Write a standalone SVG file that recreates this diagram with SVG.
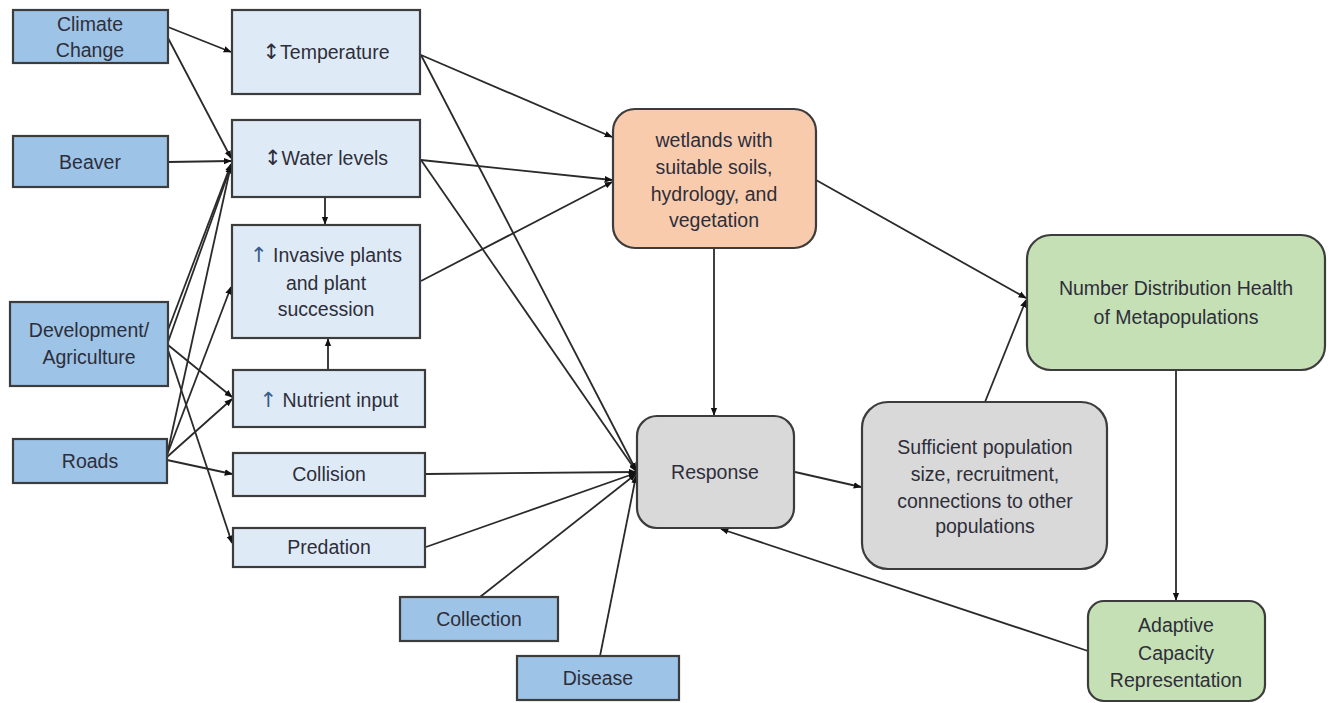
<svg xmlns="http://www.w3.org/2000/svg" width="1332" height="703" viewBox="0 0 1332 703">
<style>
.box{stroke:#3c3c3c;stroke-width:2.2}
.drv{fill:#9dc3e6}
.mid{fill:#deebf7}
.wet{fill:#f8cbad}
.gry{fill:#d9d9d9}
.grn{fill:#c5e0b4}
text{font-family:"Liberation Sans","DejaVu Sans",sans-serif;font-size:19.5px;fill:#2e2e3a;text-anchor:middle}
.sym{font-family:"DejaVu Sans",sans-serif;font-size:21px}
.c line{stroke:#2a2a2a;stroke-width:1.8;marker-end:url(#ah)}
</style>
<defs>
<marker id="ah" viewBox="0 0 10 10" refX="9" refY="5" markerWidth="4.5" markerHeight="4.5" orient="auto" markerUnits="strokeWidth">
<path d="M0,1 L10,5 L0,9 z" fill="#111"/>
</marker>
</defs>
<rect width="1332" height="703" fill="#fff"/>
<g class="c" id="connectors">
<line x1="168" y1="27" x2="231" y2="52"/>
<line x1="168" y1="38" x2="231" y2="158"/>
<line x1="168" y1="162" x2="231" y2="161"/>
<line x1="168" y1="330" x2="231" y2="164"/>
<line x1="168" y1="342" x2="231" y2="166"/>
<line x1="167" y1="455" x2="231" y2="165"/>
<line x1="167" y1="455" x2="231" y2="287"/>
<line x1="168" y1="345" x2="232" y2="397"/>
<line x1="167" y1="457" x2="232" y2="399"/>
<line x1="167" y1="460" x2="232" y2="474"/>
<line x1="168" y1="350" x2="232" y2="543"/>
<line x1="325" y1="197" x2="325" y2="224"/>
<line x1="328" y1="370" x2="328" y2="339"/>
<line x1="421" y1="55" x2="612" y2="137"/>
<line x1="421" y1="55" x2="636" y2="470"/>
<line x1="421" y1="160" x2="612" y2="180"/>
<line x1="421" y1="160" x2="636" y2="471"/>
<line x1="421" y1="281" x2="612" y2="182"/>
<line x1="426" y1="474" x2="636" y2="472"/>
<line x1="426" y1="547" x2="636" y2="473"/>
<line x1="480" y1="597" x2="636" y2="474"/>
<line x1="600" y1="656" x2="636" y2="476"/>
<line x1="714" y1="248" x2="714" y2="415"/>
<line x1="795" y1="472" x2="861" y2="487"/>
<line x1="816" y1="180" x2="1026" y2="298"/>
<line x1="985" y1="402" x2="1026" y2="300"/>
<line x1="1176" y1="370" x2="1176" y2="600"/>
<line x1="1088" y1="651" x2="721" y2="529"/>
</g>
<g id="climate"><rect class="box drv" x="13" y="10" width="155" height="53"/><text x="90" y="31">Climate</text><text x="90" y="57">Change</text></g>
<g id="beaver"><rect class="box drv" x="13" y="136" width="155" height="51"/><text x="90" y="169">Beaver</text></g>
<g id="development"><rect class="box drv" x="10" y="302" width="158" height="84"/><text x="89" y="337">Development/</text><text x="89" y="364">Agriculture</text></g>
<g id="roads"><rect class="box drv" x="13" y="439" width="154" height="44"/><text x="90" y="468">Roads</text></g>
<g id="temperature"><rect class="box mid" x="232" y="10" width="188" height="84"/><text x="326" y="59"><tspan class="sym">↕</tspan>Temperature</text></g>
<g id="water"><rect class="box mid" x="232" y="120" width="188" height="77"/><text x="326" y="165"><tspan class="sym">↕</tspan>Water levels</text></g>
<g id="invasive"><rect class="box mid" x="232" y="225" width="188" height="113"/><text x="326" y="262"><tspan class="sym" fill="#3a5a8a">↑</tspan> Invasive plants</text><text x="326" y="290">and plant</text><text x="326" y="316">succession</text></g>
<g id="nutrient"><rect class="box mid" x="233" y="370" width="192" height="57"/><text x="329" y="407"><tspan class="sym" fill="#3a5a8a">↑</tspan> Nutrient input</text></g>
<g id="collision"><rect class="box mid" x="233" y="453" width="192" height="43"/><text x="329" y="481">Collision</text></g>
<g id="predation"><rect class="box mid" x="233" y="528" width="192" height="39"/><text x="329" y="554">Predation</text></g>
<g id="collection"><rect class="box drv" x="400" y="597" width="158" height="44"/><text x="479" y="626">Collection</text></g>
<g id="disease"><rect class="box drv" x="517" y="656" width="162" height="44"/><text x="598" y="685">Disease</text></g>
<g id="wetlands"><rect class="box wet" x="613" y="109" width="203" height="139" rx="22"/><text x="714" y="147">wetlands with</text><text x="714" y="174">suitable soils,</text><text x="714" y="201">hydrology, and</text><text x="714" y="227">vegetation</text></g>
<g id="response"><rect class="box gry" x="637" y="416" width="157" height="112" rx="20"/><text x="715" y="479">Response</text></g>
<g id="sufficient"><rect class="box gry" x="862" y="402" width="245" height="167" rx="26"/><text x="985" y="454">Sufficient population</text><text x="985" y="481">size, recruitment,</text><text x="985" y="508">connections to other</text><text x="985" y="533">populations</text></g>
<g id="number"><rect class="box grn" x="1027" y="235" width="298" height="135" rx="24"/><text x="1176" y="295">Number Distribution Health</text><text x="1176" y="324">of Metapopulations</text></g>
<g id="adaptive"><rect class="box grn" x="1088" y="601" width="177" height="100" rx="16"/><text x="1176" y="632">Adaptive</text><text x="1176" y="660">Capacity</text><text x="1176" y="687">Representation</text></g>
</svg>
